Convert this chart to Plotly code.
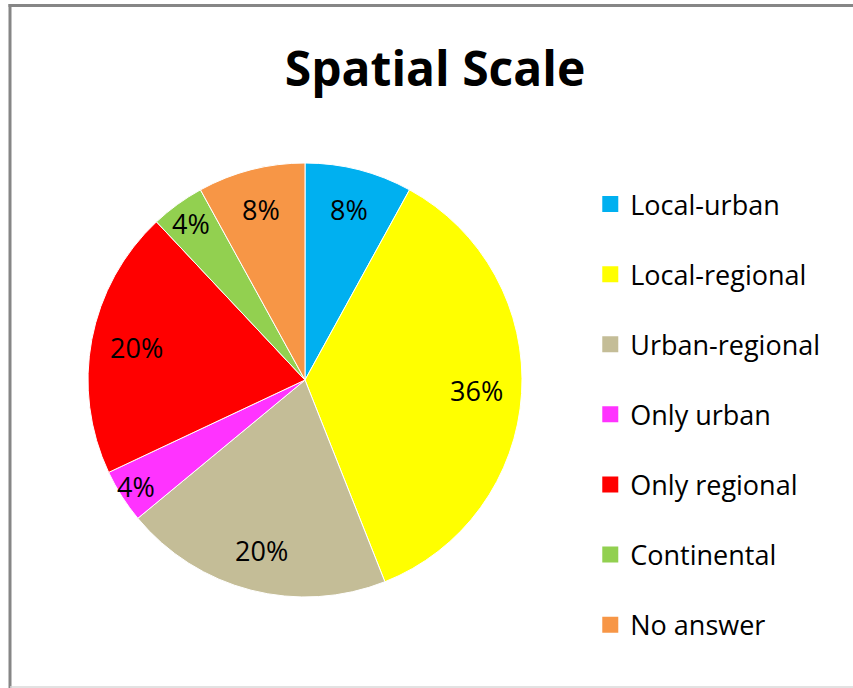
import math
import plotly.graph_objects as go

labels = ["Local-urban", "Local-regional", "Urban-regional", "Only urban",
          "Only regional", "Continental", "No answer"]
values = [8, 36, 20, 4, 20, 4, 8]
colors = ["#00B0F0", "#FFFF00", "#C4BD97", "#FF33FF", "#FF0000", "#92D050", "#F79646"]

# how far out each percentage label sits, as a share of the radius
label_r = [0.81, 0.79, 0.81, 0.92, 0.79, 0.89, 0.81]

W, H = 853, 688
font = "Open Sans"
cx, cy, R = 305, 380, 217  # pie centre / radius in pixels

fig = go.Figure()

fig.add_trace(go.Pie(
    labels=labels, values=values, sort=False, direction="clockwise", rotation=0,
    marker=dict(colors=colors, line=dict(color="white", width=1)),
    textinfo="none",
    domain=dict(x=[(cx - R) / W, (cx + R) / W], y=[(H - cy - R) / H, (H - cy + R) / H]),
    showlegend=False, hoverinfo="label+percent",
))

# percentage labels at the slice mid-angles
total = sum(values)
cum = 0
annotations = []
for v, rf in zip(values, label_r):
    ang = math.radians(360 * (cum + v / 2) / total)
    cum += v
    px_ = cx + rf * R * math.sin(ang)
    py_ = cy - rf * R * math.cos(ang)
    annotations.append(dict(
        x=px_ / W, y=1 - py_ / H, xref="paper", yref="paper",
        text=f"{round(100 * v / total)}%", showarrow=False,
        xanchor="center", yanchor="middle",
        font=dict(family=font, size=27, color="black"),
    ))

# legend entries drawn as marker-only traces so the row spacing can match
for name, col in zip(labels, colors):
    fig.add_trace(go.Scatter(
        x=[None], y=[None], mode="markers", name=name, legendgroup=name,
        marker=dict(symbol="square", size=16, color=col),
    ))

fig.update_layout(
    width=W, height=H,
    margin=dict(l=0, r=0, t=0, b=0),
    paper_bgcolor="white", plot_bgcolor="white",
    title=dict(text="<b>Spatial Scale</b>", x=435 / W, xanchor="center",
               y=1 - 69 / H, yanchor="middle",
               font=dict(family=font, size=48, color="black")),
    xaxis=dict(visible=False), yaxis=dict(visible=False),
    legend=dict(x=0.692, y=1 - 180 / H, xanchor="left", yanchor="top",
                font=dict(family=font, size=27, color="black"),
                tracegroupgap=32, bgcolor="rgba(0,0,0,0)"),
    annotations=annotations,
    shapes=[
        dict(type="line", xref="paper", yref="paper", x0=10 / W, x1=10 / W,
             y0=0, y1=1 - 4 / H, line=dict(color="#868686", width=3)),
        dict(type="line", xref="paper", yref="paper", x0=8.5 / W, x1=1,
             y0=1 - 5.5 / H, y1=1 - 5.5 / H, line=dict(color="#868686", width=3)),
        dict(type="line", xref="paper", yref="paper", x0=10 / W, x1=1,
             y0=1 / H, y1=1 / H, line=dict(color="#D9D9D9", width=1.5)),
    ],
)

fig.write_html("out.html", config={"displayModeBar": False},
               post_script="document.body.style.margin='0';")
